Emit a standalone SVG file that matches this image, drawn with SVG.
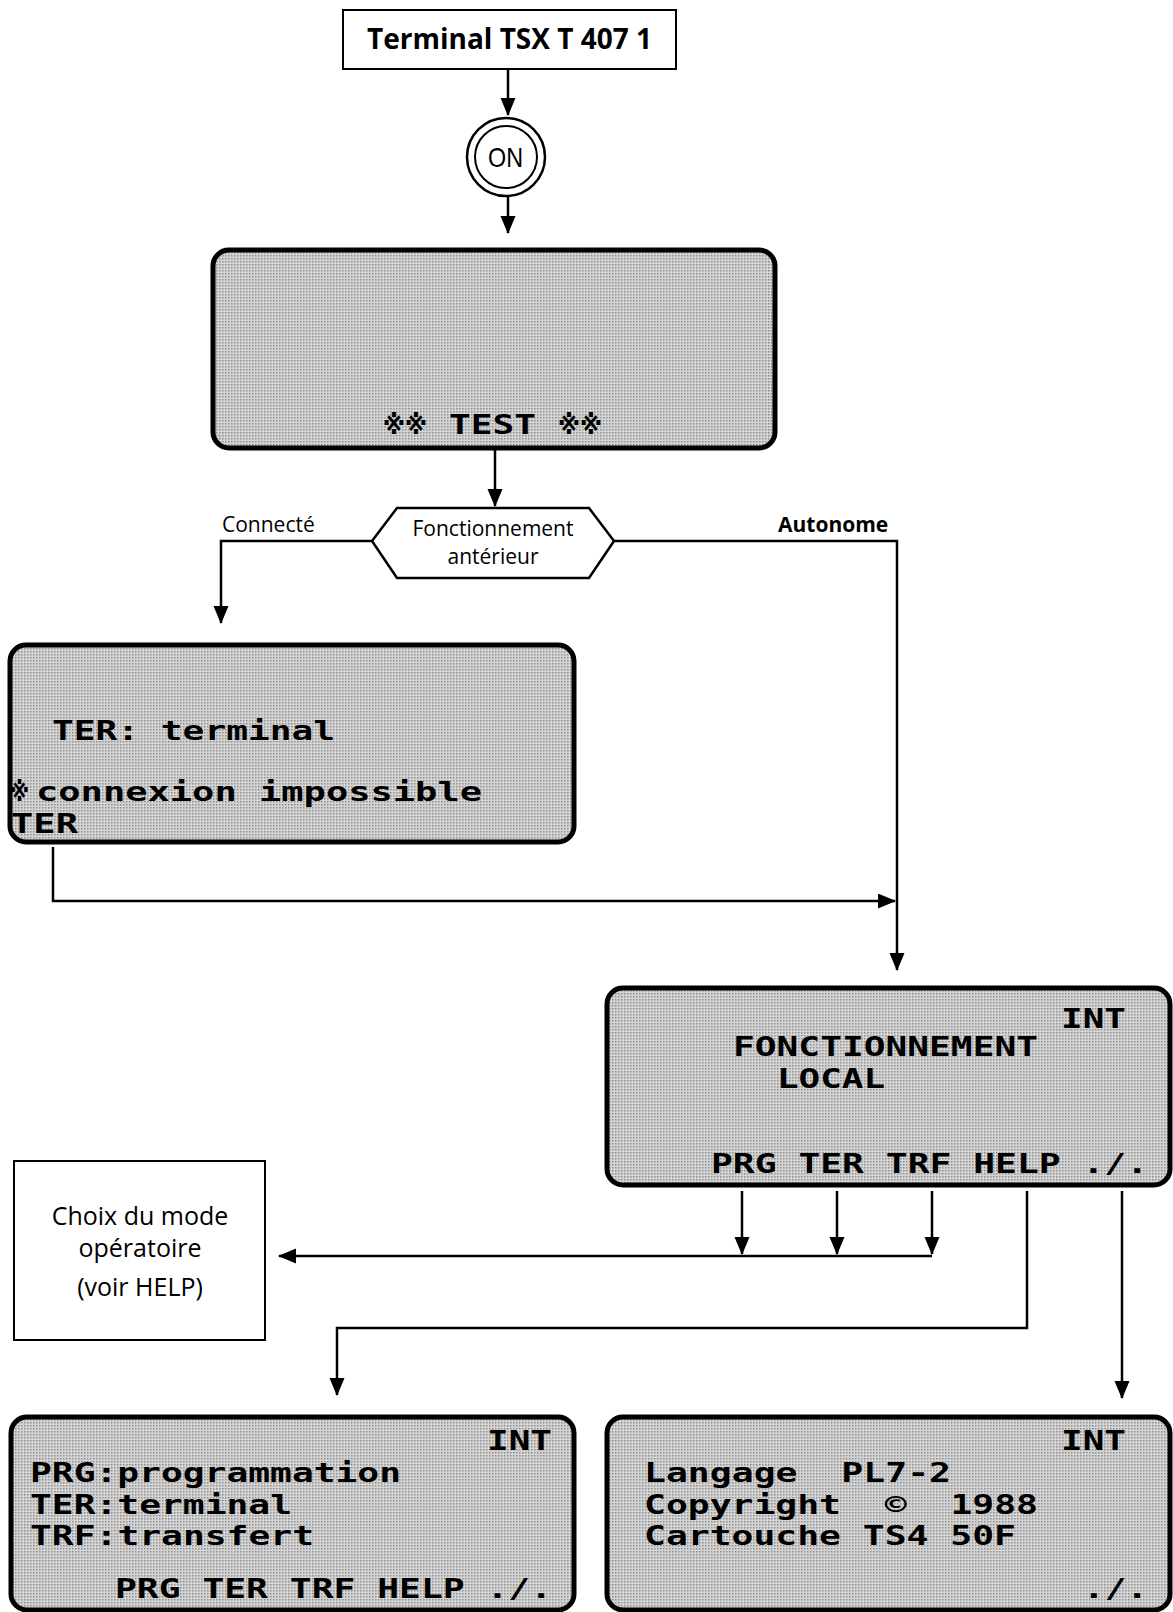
<svg xmlns="http://www.w3.org/2000/svg" width="1173" height="1612" viewBox="0 0 1173 1612">
  <defs>
    <!-- stippled grey used for the LCD screen faces -->
    <pattern id="lcdFill" width="3" height="3" patternUnits="userSpaceOnUse">
      <rect width="3" height="3" fill="#d4d4d4"/>
      <rect width="1.5" height="1.5" fill="#8e8e8e"/>
    </pattern>
    <marker id="arrow" markerUnits="userSpaceOnUse" markerWidth="20" markerHeight="16" refX="17" refY="7.5" orient="auto">
      <path d="M0,0 L18,7.5 L0,15 Z" fill="#000"/>
    </marker>
  </defs>
  <style>
    .box { fill: #fff; stroke: #000; stroke-width: 2; }
    .lcd { fill: url(#lcdFill); stroke: #000; stroke-width: 5; }
    .lcdtxt { font-family: "DejaVu Sans Mono", "Liberation Mono", monospace; font-weight: bold; font-size: 27px; fill: #000; white-space: pre; }
    .sym { font-family: "DejaVu Sans", "Noto Sans CJK JP", sans-serif; font-weight: bold; font-size: 27px; fill: #000; }
    .lbl { font-family: "Open Sans", "Liberation Sans", sans-serif; font-size: 21px; fill: #000; }
    .lblb { font-family: "Open Sans", "Liberation Sans", sans-serif; font-size: 21px; font-weight: bold; fill: #000; }
    .conn { fill: none; stroke: #000; stroke-width: 2.5; }
  </style>
  <rect width="1173" height="1612" fill="#fff"/>

  <!-- connectors -->
  <g id="connectors">
    <path class="conn" d="M508,69 V115" marker-end="url(#arrow)"/>
    <path class="conn" d="M508,196 V233" marker-end="url(#arrow)"/>
    <path class="conn" d="M495,450 V506" marker-end="url(#arrow)"/>
    <path class="conn" d="M372,541 H221 V623" marker-end="url(#arrow)"/>
    <path class="conn" d="M614,541 H897 V970" marker-end="url(#arrow)"/>
    <path class="conn" d="M53,847 V901 H895" marker-end="url(#arrow)"/>
    <path class="conn" d="M742,1191 V1254" marker-end="url(#arrow)"/>
    <path class="conn" d="M837,1191 V1254" marker-end="url(#arrow)"/>
    <path class="conn" d="M932,1191 V1254" marker-end="url(#arrow)"/>
    <path class="conn" d="M932,1256 H279" marker-end="url(#arrow)"/>
    <path class="conn" d="M1027,1191 V1328 H337 V1395" marker-end="url(#arrow)"/>
    <path class="conn" d="M1122,1191 V1398" marker-end="url(#arrow)"/>
    <text class="lbl" x="222" y="532">Connecté</text>
    <text class="lblb" x="778" y="532">Autonome</text>
  </g>

  <!-- terminal title -->
  <g id="terminal">
    <rect class="box" x="343" y="10" width="333" height="59"/>
    <text x="509.5" y="49" text-anchor="middle" font-family="'Open Sans', 'Liberation Sans', sans-serif" font-weight="bold" font-size="28">Terminal TSX T 407 1</text>
  </g>

  <!-- power-on key -->
  <g id="on-key">
    <circle cx="506" cy="157" r="39" fill="#fff" stroke="#000" stroke-width="2.5"/>
    <circle cx="506" cy="157" r="31" fill="none" stroke="#000" stroke-width="2"/>
    <text x="488" y="167" font-family="'Liberation Sans', sans-serif" font-size="28" textLength="35" lengthAdjust="spacingAndGlyphs">ON</text>
  </g>

  <!-- self test screen -->
  <g id="test-screen">
    <rect class="lcd" x="213" y="250" width="562" height="198" rx="16"/>
    <text class="sym" x="383" y="434" textLength="44" lengthAdjust="spacingAndGlyphs">※※</text>
    <text class="lcdtxt" x="449" y="434" textLength="87" lengthAdjust="spacingAndGlyphs">TEST</text>
    <text class="sym" x="558" y="434" textLength="44" lengthAdjust="spacingAndGlyphs">※※</text>
  </g>

  <!-- previous mode decision -->
  <g id="previous-mode">
    <polygon points="372,541 397,508 589,508 614,541 589,578 397,578" fill="#fff" stroke="#000" stroke-width="2.5"/>
    <text class="lbl" x="493" y="536" text-anchor="middle">Fonctionnement</text>
    <text class="lbl" x="493" y="564" text-anchor="middle">antérieur</text>
  </g>

  <!-- connected-mode screen -->
  <g id="connected-screen">
    <rect class="lcd" x="10" y="645" width="564" height="197" rx="16"/>
    <text class="lcdtxt" x="52" y="740" textLength="283" lengthAdjust="spacingAndGlyphs">TER: terminal</text>
    <text class="sym" x="10" y="801" textLength="19" lengthAdjust="spacingAndGlyphs">※</text>
    <text class="lcdtxt" x="36" y="801" textLength="446" lengthAdjust="spacingAndGlyphs">connexion impossible</text>
    <text class="lcdtxt" x="11" y="833" textLength="67" lengthAdjust="spacingAndGlyphs">TER</text>
  </g>

  <!-- local mode screen -->
  <g id="local-screen">
    <rect class="lcd" x="607" y="988" width="563" height="197" rx="16"/>
    <text class="lcdtxt" x="1061" y="1028" textLength="65" lengthAdjust="spacingAndGlyphs">INT</text>
    <text class="lcdtxt" x="733" y="1056" textLength="305" lengthAdjust="spacingAndGlyphs">FONCTIONNEMENT</text>
    <text class="lcdtxt" x="777" y="1088" textLength="108" lengthAdjust="spacingAndGlyphs">LOCAL</text>
    <text class="lcdtxt" x="711" y="1173" textLength="437" lengthAdjust="spacingAndGlyphs">PRG TER TRF HELP ./.</text>
  </g>

  <!-- operating mode choice -->
  <g id="mode-choice">
    <rect class="box" x="14" y="1161" width="251" height="179"/>
    <text x="140" y="1225" text-anchor="middle" font-family="'Open Sans', 'Liberation Sans', sans-serif" font-size="25">Choix du mode</text>
    <text x="140" y="1257" text-anchor="middle" font-family="'Open Sans', 'Liberation Sans', sans-serif" font-size="25">opératoire</text>
    <text x="140" y="1296" text-anchor="middle" font-family="'Open Sans', 'Liberation Sans', sans-serif" font-size="25">(voir HELP)</text>
  </g>

  <!-- help screen -->
  <g id="help-screen">
    <rect class="lcd" x="11" y="1417" width="563" height="193" rx="16"/>
    <text class="lcdtxt" x="487" y="1450" textLength="65" lengthAdjust="spacingAndGlyphs">INT</text>
    <text class="lcdtxt" x="30" y="1482" textLength="371" lengthAdjust="spacingAndGlyphs">PRG:programmation</text>
    <text class="lcdtxt" x="30" y="1513.5" textLength="262" lengthAdjust="spacingAndGlyphs">TER:terminal</text>
    <text class="lcdtxt" x="30" y="1545" textLength="284" lengthAdjust="spacingAndGlyphs">TRF:transfert</text>
    <text class="lcdtxt" x="115" y="1598" textLength="437" lengthAdjust="spacingAndGlyphs">PRG TER TRF HELP ./.</text>
  </g>

  <!-- version screen -->
  <g id="version-screen">
    <rect class="lcd" x="607" y="1417" width="563" height="193" rx="16"/>
    <text class="lcdtxt" x="1061" y="1450" textLength="65" lengthAdjust="spacingAndGlyphs">INT</text>
    <text class="lcdtxt" x="644" y="1482" textLength="307" lengthAdjust="spacingAndGlyphs">Langage  PL7-2</text>
    <text class="lcdtxt" x="644" y="1513.5" textLength="394" lengthAdjust="spacingAndGlyphs">Copyright  ©  1988</text>
    <text class="lcdtxt" x="644" y="1545" textLength="372" lengthAdjust="spacingAndGlyphs">Cartouche TS4 50F</text>
    <text class="lcdtxt" x="1083" y="1598" textLength="65" lengthAdjust="spacingAndGlyphs">./.</text>
  </g>
</svg>
